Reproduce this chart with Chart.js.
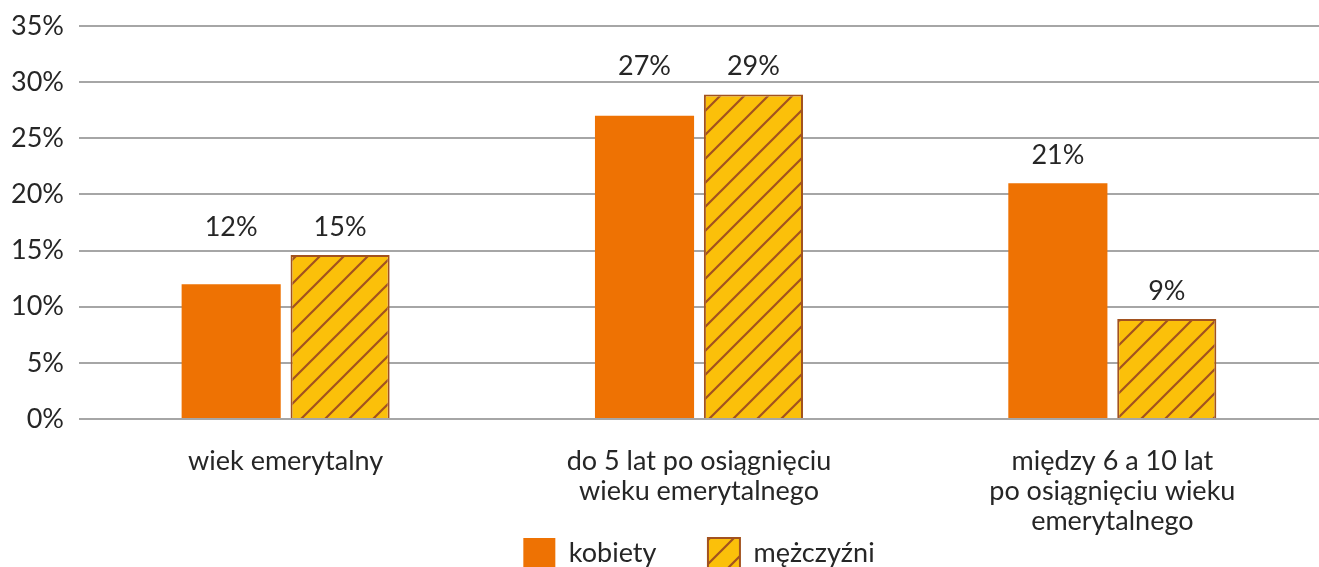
<!DOCTYPE html>
<html>
<head>
<meta charset="utf-8">
<script src="https://cdn.jsdelivr.net/npm/chart.js@4/dist/chart.umd.min.js"></script>
<style>
  html, body { margin: 0; padding: 0; background: #fff; overflow: hidden; }
  #wrap { position: relative; width: 1319px; height: 578px; }
</style>
</head>
<body>
<div id="wrap"><canvas id="chart"></canvas></div>
<script>
const categories = [
  ['wiek emerytalny'],
  ['do 5 lat po osiągnięciu', 'wieku emerytalnego'],
  ['między 6 a 10 lat', 'po osiągnięciu wieku', 'emerytalnego'],
];
const seriesNames = ['kobiety', 'mężczyźni'];
const kobiety = [12, 27, 21];
const mezczyzni = [14.6, 28.9, 8.9];
const kobietyLabels = ['12%', '27%', '21%'];
const mezczyzniLabels = ['15%', '29%', '9%'];
// label heights (in %), the source chart aligns some labels within a group
const kobietyLabelAt = [14.6, 28.9, 21];
const mezczyzniLabelAt = [14.6, 28.9, 8.9];
const yTicks = [0, 5, 10, 15, 20, 25, 30, 35];

const ORANGE = '#EE7203';
const YELLOW = '#FBC00A';
const BROWN = '#A2521F';
const TEXT = '#262626';
const FONT = 'Lato';
const FS = 27;

function makeHatch() {
  const size = 24;
  const c = document.createElement('canvas');
  c.width = size;
  c.height = size;
  const ctx = c.getContext('2d');
  ctx.fillStyle = YELLOW;
  ctx.fillRect(0, 0, size, size);
  ctx.strokeStyle = BROWN;
  ctx.lineWidth = 2.2;
  ctx.beginPath();
  ctx.moveTo(-2, size + 2);
  ctx.lineTo(size + 2, -2);
  ctx.moveTo(-2, 2);
  ctx.lineTo(2, -2);
  ctx.moveTo(size - 2, size + 2);
  ctx.lineTo(size + 2, size - 2);
  ctx.stroke();
  return ctx.createPattern(c, 'repeat');
}

const valueLabelsPlugin = {
  id: 'valueLabels',
  afterDatasetsDraw(chart) {
    const { ctx } = chart;
    const y = chart.scales.y;
    const texts = [kobietyLabels, mezczyzniLabels];
    const levels = [kobietyLabelAt, mezczyzniLabelAt];
    ctx.save();
    ctx.font = `${FS}px ${FONT}`;
    ctx.fillStyle = TEXT;
    ctx.textAlign = 'center';
    ctx.textBaseline = 'middle';
    chart.data.datasets.forEach((ds, di) => {
      chart.getDatasetMeta(di).data.forEach((bar, i) => {
        ctx.fillText(texts[di][i], bar.x, y.getPixelForValue(levels[di][i]) - 28);
      });
    });
    ctx.restore();
  },
};

// centre the legend under the visible part of the plot area
const legendUnderPlot = {
  id: 'legendUnderPlot',
  afterLayout(chart) {
    const lg = chart.legend;
    const a = chart.chartArea;
    lg.left = a.left;
    lg.right = Math.min(a.right, chart.width);
    lg.width = lg.right - lg.left;
  },
};

new Chart(document.getElementById('chart'), {
  type: 'bar',
  data: {
    labels: categories,
    datasets: [
      {
        label: seriesNames[0],
        data: kobiety,
        backgroundColor: ORANGE,
        borderWidth: 0,
      },
      {
        label: seriesNames[1],
        data: mezczyzni,
        backgroundColor: makeHatch(),
        borderColor: BROWN,
        borderWidth: 2,
      },
    ],
  },
  plugins: [valueLabelsPlugin, legendUnderPlot],
  options: {
    responsive: true,
    maintainAspectRatio: false,
    animation: false,
    categoryPercentage: 0.527,
    barPercentage: 0.91,
    // the source plot runs a little past the right edge of the picture
    layout: { padding: { top: 0, left: -4, right: -9, bottom: 0 } },
    plugins: {
      tooltip: { enabled: false },
      legend: {
        position: 'bottom',
        labels: {
          font: { family: FONT, size: FS },
          color: TEXT,
          boxWidth: 32,
          boxHeight: 30,
          padding: 2,
          generateLabels(chart) {
            const items = Chart.defaults.plugins.legend.labels.generateLabels(chart);
            // widen the gap after the first entry
            items[0].text += '\u2003\u2003\u2004';
            return items;
          },
        },
      },
    },
    scales: {
      x: {
        afterFit: (scale) => { scale.height = 117; },
        grid: { display: false, drawTicks: false },
        border: { display: false },
        ticks: {
          font: { family: FONT, size: FS, lineHeight: 30 / 27 },
          color: TEXT,
          padding: 27,
          maxRotation: 0,
          autoSkip: false,
        },
      },
      y: {
        min: 0,
        max: 35,
        afterBuildTicks: (axis) => { axis.ticks = yTicks.map((v) => ({ value: v })); },
        afterFit: (scale) => { scale.paddingTop = 26; },
        grid: { color: '#A6A6A6', lineWidth: 2, drawTicks: false },
        border: { display: false },
        ticks: {
          font: { family: FONT, size: FS },
          color: TEXT,
          padding: 15,
          callback: (v) => v + '%',
        },
      },
    },
  },
});
</script>
</body>
</html>
